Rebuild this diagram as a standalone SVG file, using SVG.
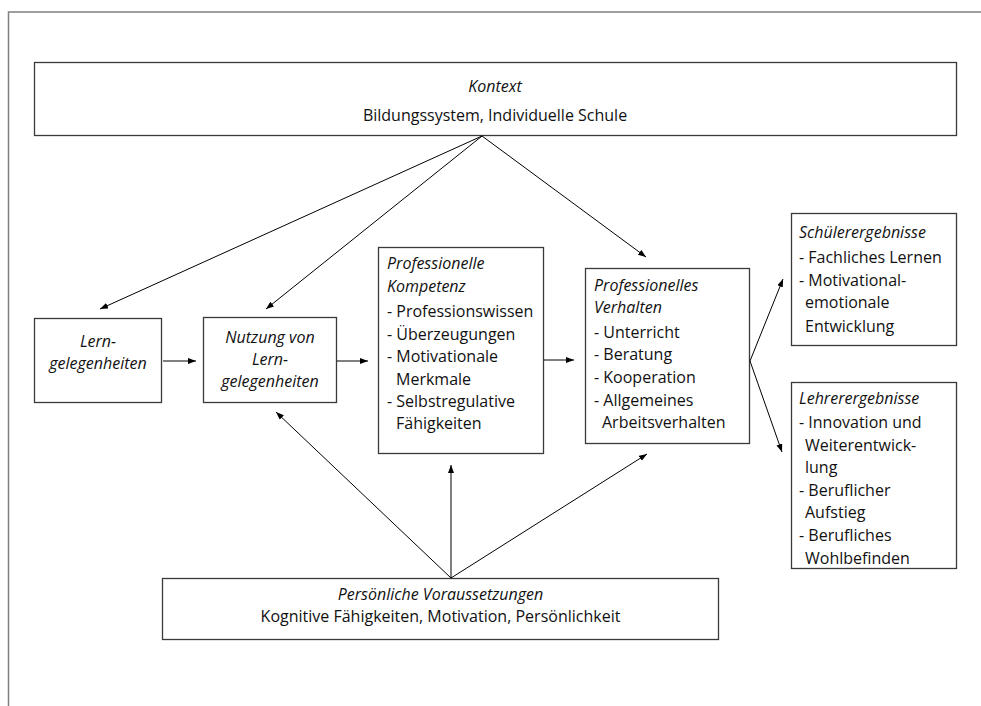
<svg xmlns="http://www.w3.org/2000/svg" width="981" height="706" viewBox="0 0 981 706">
<defs>
<marker id="ah" markerUnits="userSpaceOnUse" markerWidth="9" markerHeight="7" refX="8" refY="3" orient="auto">
<path d="M0,0 L8,3 L0,6 z" fill="#000"/>
</marker>
<style>
.box{fill:#fff;stroke:#3a3a3a;stroke-width:1.3}
.t{font-family:"Open Sans","Noto Sans",sans-serif;font-size:16px;fill:#111}
.i{font-style:italic}
.c{text-anchor:middle}
.con line{stroke:#000;stroke-width:1;marker-end:url(#ah)}
</style>
</defs>
<rect width="981" height="706" fill="#fff"/>
<path d="M8.5,706 V12 H981" fill="none" stroke="#808080" stroke-width="1.5"/>

<g id="kontext">
<rect class="box" x="34.5" y="62.5" width="922" height="73"/>
<text class="t i c" x="495" y="92">Kontext</text>
<text class="t c" x="495" y="121">Bildungssystem, Individuelle Schule</text>
</g>

<g id="lerngelegenheiten">
<rect class="box" x="34.5" y="318.5" width="127" height="84"/>
<text class="t i c" x="98" y="347">Lern-</text>
<text class="t i c" x="98" y="369">gelegenheiten</text>
</g>

<g id="nutzung">
<rect class="box" x="203.5" y="317.5" width="133" height="85"/>
<text class="t i c" x="270" y="343">Nutzung von</text>
<text class="t i c" x="270" y="365">Lern-</text>
<text class="t i c" x="270" y="387">gelegenheiten</text>
</g>

<g id="kompetenz">
<rect class="box" x="378.5" y="247.5" width="165" height="206"/>
<text class="t i" x="387" y="269">Professionelle</text>
<text class="t i" x="387" y="292">Kompetenz</text>
<text class="t" x="387" y="317">- Professionswissen</text>
<text class="t" x="387" y="340">- Überzeugungen</text>
<text class="t" x="387" y="362">- Motivationale</text>
<text class="t" x="396" y="385">Merkmale</text>
<text class="t" x="387" y="407">- Selbstregulative</text>
<text class="t" x="396" y="429">Fähigkeiten</text>
</g>

<g id="verhalten">
<rect class="box" x="585.5" y="268.5" width="164" height="175"/>
<text class="t i" x="594" y="291">Professionelles</text>
<text class="t i" x="594" y="313">Verhalten</text>
<text class="t" x="594" y="338">- Unterricht</text>
<text class="t" x="594" y="360">- Beratung</text>
<text class="t" x="594" y="383">- Kooperation</text>
<text class="t" x="594" y="406">- Allgemeines</text>
<text class="t" x="602" y="428">Arbeitsverhalten</text>
</g>

<g id="schueler">
<rect class="box" x="791.5" y="213.5" width="165" height="132"/>
<text class="t i" x="799" y="238">Schülerergebnisse</text>
<text class="t" x="799" y="263">- Fachliches Lernen</text>
<text class="t" x="799" y="286">- Motivational-</text>
<text class="t" x="805" y="308">emotionale</text>
<text class="t" x="805" y="332">Entwicklung</text>
</g>

<g id="lehrer">
<rect class="box" x="791.5" y="382.5" width="165" height="186"/>
<text class="t i" x="799" y="404">Lehrerergebnisse</text>
<text class="t" x="799" y="428">- Innovation und</text>
<text class="t" x="805" y="451">Weiterentwick-</text>
<text class="t" x="805" y="473">lung</text>
<text class="t" x="799" y="496">- Beruflicher</text>
<text class="t" x="805" y="518">Aufstieg</text>
<text class="t" x="799" y="541">- Berufliches</text>
<text class="t" x="805" y="564">Wohlbefinden</text>
</g>

<g id="voraussetzungen">
<rect class="box" x="162.5" y="578.5" width="556" height="61"/>
<text class="t i c" x="440.5" y="600">Persönliche Voraussetzungen</text>
<text class="t c" x="440.5" y="622">Kognitive Fähigkeiten, Motivation, Persönlichkeit</text>
</g>

<g id="connectors" class="con">
<line x1="482" y1="136" x2="100" y2="309"/>
<line x1="482" y1="136" x2="266" y2="309"/>
<line x1="482" y1="136" x2="646" y2="257"/>
<line x1="163" y1="361" x2="196" y2="361"/>
<line x1="337" y1="361" x2="368" y2="361"/>
<line x1="544" y1="360" x2="574" y2="360"/>
<line x1="750" y1="361" x2="783" y2="279"/>
<line x1="750" y1="361" x2="782" y2="452"/>
<line x1="451" y1="578" x2="276" y2="412"/>
<line x1="451" y1="578" x2="451" y2="465"/>
<line x1="451" y1="578" x2="647" y2="454"/>
</g>
</svg>
